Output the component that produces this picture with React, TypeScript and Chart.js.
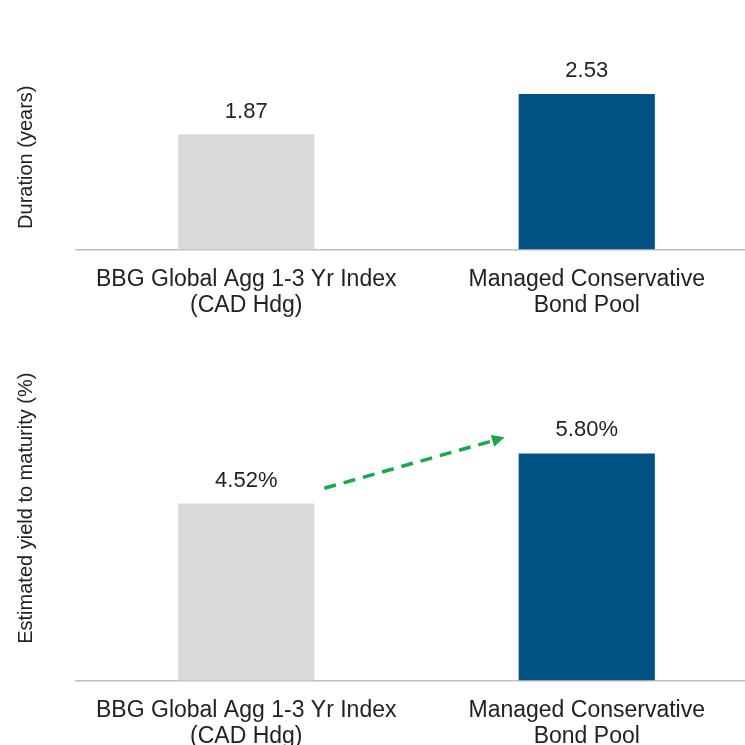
import { useEffect, useRef } from "react"
import { Chart, registerables } from "chart.js"

Chart.register(...registerables)

const categories = [["BBG Global Agg 1-3 Yr Index", "(CAD Hdg)"], ["Managed Conservative", "Bond Pool"]]
const durationValues = [1.87, 2.53]
const yieldValues = [4.52, 5.8]
const barColors = ["#d9d9d9", "#005383"]
const FONT = "'Liberation Sans', Arial, sans-serif"

const valueLabels = {
  id: "valueLabels",
  afterDatasetsDraw(chart: any) {
    const ctx = chart.ctx
    const suffix = chart.options.plugins.valueLabels?.suffix ?? ""
    const meta = chart.getDatasetMeta(0)
    ctx.save()
    ctx.font = `22px ${FONT}`
    ctx.fillStyle = "#222"
    ctx.textAlign = "center"
    ctx.textBaseline = "bottom"
    meta.data.forEach((bar: any, i: number) => {
      const v = chart.data.datasets[0].data[i]
      ctx.fillText(v.toFixed(2) + suffix, bar.x, bar.y - 12)
    })
    ctx.restore()
  },
}

const arrowPlugin = {
  id: "arrow",
  afterDatasetsDraw(chart: any) {
    if (!chart.options.plugins.arrow?.show) return
    const meta = chart.getDatasetMeta(0)
    const y = chart.scales.y
    const x0 = meta.data[0].x + meta.data[0].width / 2 + 10
    const x1 = meta.data[1].x - meta.data[1].width / 2 - 14
    const y0 = y.getPixelForValue(4.91)
    const y1 = y.getPixelForValue(6.21)
    const ctx = chart.ctx
    ctx.save()
    ctx.strokeStyle = "#1aa84a"
    ctx.fillStyle = "#1aa84a"
    ctx.lineWidth = 3.5
    ctx.setLineDash([12, 8])
    ctx.beginPath()
    ctx.moveTo(x0, y0)
    ctx.lineTo(x1 - 8, y1 + 2.3)
    ctx.stroke()
    ctx.setLineDash([])
    const ang = Math.atan2(y1 - y0, x1 - x0)
    ctx.beginPath()
    ctx.moveTo(x1, y1)
    ctx.lineTo(x1 - 14 * Math.cos(ang - 0.45), y1 - 14 * Math.sin(ang - 0.45))
    ctx.lineTo(x1 - 14 * Math.cos(ang + 0.45), y1 - 14 * Math.sin(ang + 0.45))
    ctx.closePath()
    ctx.fill()
    ctx.restore()
  },
}

function BarPanel({ values, max, title, suffix, arrow, height, clip, padTop }: any) {
  const ref = useRef<HTMLCanvasElement>(null)
  useEffect(() => {
    if (!ref.current) return
    const chart = new Chart(ref.current, {
      type: "bar",
      data: {
        labels: categories,
        datasets: [{ data: values, backgroundColor: barColors, barPercentage: 0.4, categoryPercentage: 1 }],
      },
      plugins: [valueLabels, arrowPlugin],
      options: {
        animation: false,
        responsive: true,
        maintainAspectRatio: false,
        layout: { padding: { top: padTop, right: 0, left: 10, bottom: 0 } },
        plugins: {
          legend: { display: false },
          tooltip: { enabled: false },
          valueLabels: { suffix },
          arrow: { show: arrow },
        } as any,
        scales: {
          x: {
            grid: { display: false, drawTicks: false },
            border: { color: "#bfbfbf", width: 1.5 },
            ticks: { color: "#222", font: { family: FONT, size: 23, lineHeight: 1.1 }, padding: 18 },
          },
          y: {
            min: 0,
            max,
            grid: { display: false },
            border: { display: false },
            ticks: { display: false },
            title: { display: true, text: title, color: "#222", font: { family: FONT, size: 20 }, padding: { bottom: 30 } },
          },
        },
      },
    })
    return () => chart.destroy()
  }, [])
  return (
    <div style={{ width: 745, height: clip, overflow: "hidden" }}>
      <div style={{ width: 757, height, position: "relative" }}>
        <canvas ref={ref} />
      </div>
    </div>
  )
}

export default function App() {
  return (
    <div style={{ position: "absolute", top: 0, left: 0, width: 745, background: "#fff" }}>
      <BarPanel values={durationValues} max={3} title="Duration (years)" suffix="" arrow={false} height={336} clip={336} padTop={65} />
      <BarPanel values={yieldValues} max={8.8} title="Estimated yield to maturity (%)" suffix="%" arrow={true} height={431} clip={409} padTop={0} />
    </div>
  )
}
